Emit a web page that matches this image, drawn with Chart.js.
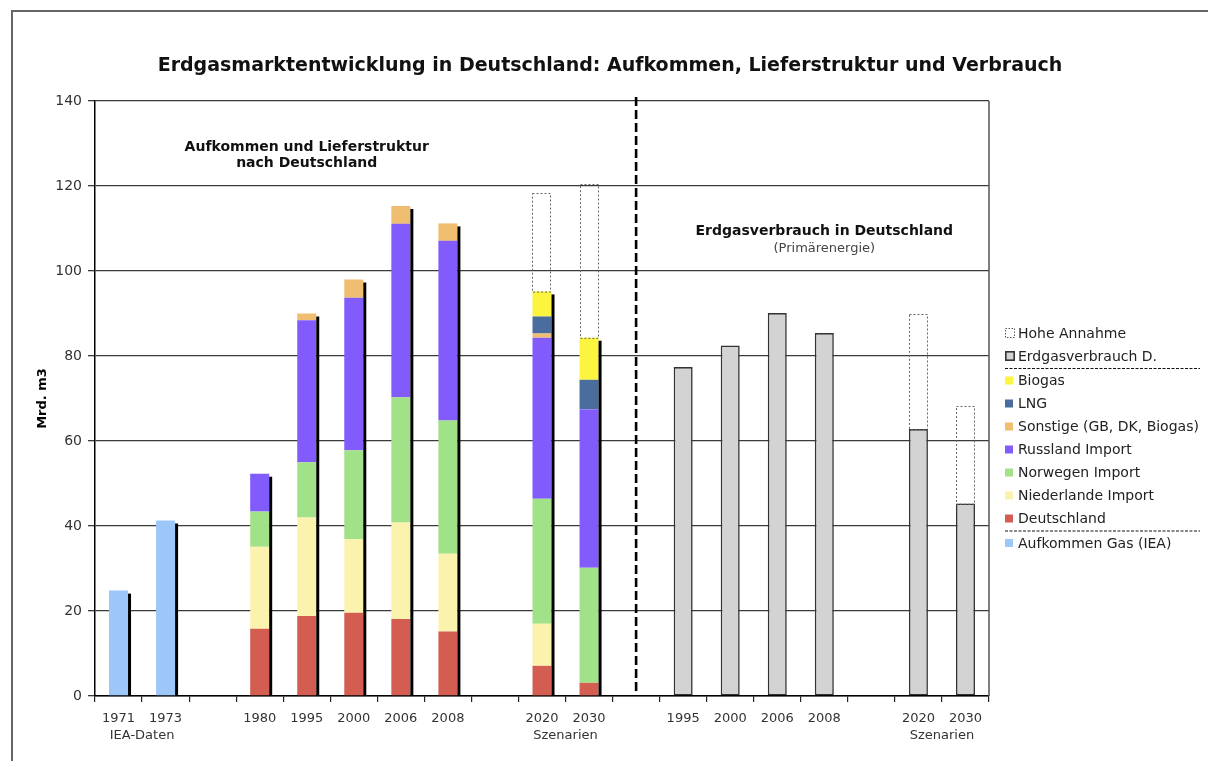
<!DOCTYPE html>
<html>
<head>
<meta charset="utf-8">
<script src="https://cdn.jsdelivr.net/npm/chart.js@4.4.1/dist/chart.umd.min.js"></script>
<style>
  html, body { margin: 0; padding: 0; background: #fff; }
  #wrap { position: relative; width: 1208px; height: 761px; overflow: hidden; }
  #frame { position: absolute; left: 11px; top: 10px; right: -10px; bottom: -10px;
           border-top: 2px solid #666; border-left: 2px solid #666; }
  canvas { position: absolute; left: 0; top: 0; }
</style>
</head>
<body>
<div id="wrap">
  <div id="frame"></div>
  <canvas id="chart" width="1208" height="761"></canvas>
</div>
<script>
// --- Data (Mrd. m3) ---
const _ = null;
const labels = ['1971', '1973', '', '1980', '1995', '2000', '2006', '2008', '', '2020', '2030',
                '', '1995', '2000', '2006', '2008', '', '2020', '2030'];

const aufkommenIEA = [24.8, 41.3, _, _, _, _, _, _, _, _, _, _, _, _, _, _, _, _, _];
const deutschland  = [_, _, _, 15.8, 18.8, 19.6, 18.1, 15.2, _, 7.1, 3.1, _, _, _, _, _, _, _, _];
const niederlande  = [_, _, _, 19.3, 23.2, 17.3, 22.7, 18.3, _, 9.9, _, _, _, _, _, _, _, _, _];
const norwegen     = [_, _, _, 8.3, 13.0, 20.9, 29.5, 31.3, _, 29.4, 27.1, _, _, _, _, _, _, _, _];
const russland     = [_, _, _, 8.9, 33.4, 35.9, 40.8, 42.3, _, 37.9, 37.3, _, _, _, _, _, _, _, _];
const sonstige     = [_, _, _, _, 1.6, 4.3, 4.2, 4.1, _, 1.0, _, _, _, _, _, _, _, _, _];
const lng          = [_, _, _, _, _, _, _, _, _, 4.0, 6.9, _, _, _, _, _, _, _, _];
const biogas       = [_, _, _, _, _, _, _, _, _, 5.9, 9.9, _, _, _, _, _, _, _, _];
const verbrauch    = [_, _, _, _, _, _, _, _, _, _, _, _, 77.4, 82.5, 90.1, 85.4, _, 62.8, 45.3];
const hoheAnnahme  = [_, _, _, _, _, _, _, _, _, 23.2, 36.2, _, _, _, _, _, _, 27.1, 23.0];

const yTicks = [0, 20, 40, 60, 80, 100, 120, 140];

const FONT = '"DejaVu Sans", Verdana, sans-serif';

// --- Datasets ---
function bar(label, data, color) {
  return { label, data, backgroundColor: color, borderWidth: 0 };
}
const datasets = [
  bar('Aufkommen Gas (IEA)', aufkommenIEA, '#9dc6f9'),
  bar('Deutschland', deutschland, '#d35d50'),
  bar('Niederlande Import', niederlande, '#fbf2ae'),
  bar('Norwegen Import', norwegen, '#a1e187'),
  bar('Russland Import', russland, '#815bfb'),
  bar('Sonstige (GB, DK, Biogas)', sonstige, '#f0be70'),
  bar('LNG', lng, '#4b6d9e'),
  bar('Biogas', biogas, '#fcf43e'),
  { label: 'Erdgasverbrauch D.', data: verbrauch, backgroundColor: '#d3d3d3',
    borderColor: '#333', borderWidth: 1.6, borderSkipped: false },
  { label: 'Hohe Annahme', data: hoheAnnahme, backgroundColor: 'rgba(0,0,0,0)', borderWidth: 0 }
];
const SUPPLY = 8; // first 8 datasets get the black side shadow

// legend order, top to bottom ('sep' = dashed separator)
const legendOrder = [9, 8, 'sep', 7, 6, 5, 4, 3, 2, 1, 'sep', 0];

// --- Extra drawing: shadows, dotted boxes, separator, texts, legend ---
const overlay = {
  id: 'overlay',
  afterDatasetsDraw(chart) {
    const { ctx, chartArea: a, scales: { x, y } } = chart;
    ctx.save();

    // black shadow on the right side of supply bars
    for (let i = 0; i < labels.length; i++) {
      let top = null, ref = null;
      for (let d = 0; d < SUPPLY; d++) {
        if (chart.data.datasets[d].data[i] == null) continue;
        const el = chart.getDatasetMeta(d).data[i];
        if (top === null || el.y < top) top = el.y;
        ref = el;
      }
      if (ref) {
        ctx.fillStyle = '#000';
        ctx.fillRect(ref.x + ref.width / 2, top + 3, 3, y.getPixelForValue(0) - top - 3);
      }
    }

    // dotted boxes for "Hohe Annahme"
    ctx.setLineDash([2, 2]);
    ctx.strokeStyle = '#666';
    ctx.lineWidth = 1;
    chart.getDatasetMeta(9).data.forEach((el, i) => {
      if (hoheAnnahme[i] == null) return;
      ctx.strokeRect(Math.round(el.x - el.width / 2) + 0.5, Math.round(el.y) + 0.5,
                     Math.round(el.width) - 1, el.base - el.y);
    });

    // right frame of plot area
    ctx.setLineDash([]);
    ctx.strokeStyle = '#555';
    ctx.lineWidth = 1.5;
    ctx.beginPath();
    ctx.moveTo(a.right, a.top);
    ctx.lineTo(a.right, a.bottom);
    ctx.stroke();

    // dashed separator between supply and consumption
    const sx = x.getPixelForValue(11);
    ctx.setLineDash([9, 4]);
    ctx.strokeStyle = '#000';
    ctx.lineWidth = 2.6;
    ctx.beginPath();
    ctx.moveTo(sx, a.top - 4);
    ctx.lineTo(sx, a.bottom);
    ctx.stroke();
    ctx.restore();
  },
  afterDraw(chart) {
    const { ctx, chartArea: a, scales: { x, y } } = chart;
    ctx.save();
    ctx.textAlign = 'center';
    ctx.textBaseline = 'middle';

    // main title
    ctx.fillStyle = '#111';
    ctx.font = 'bold 19px ' + FONT;
    ctx.fillText('Erdgasmarktentwicklung in Deutschland: Aufkommen, Lieferstruktur und Verbrauch', 610, 66);

    // section texts
    ctx.font = 'bold 14px ' + FONT;
    ctx.fillText('Aufkommen und Lieferstruktur', x.getPixelForValue(4), y.getPixelForValue(129.1));
    ctx.fillText('nach Deutschland', x.getPixelForValue(4), y.getPixelForValue(125.3));
    ctx.fillText('Erdgasverbrauch in Deutschland', x.getPixelForValue(15), y.getPixelForValue(109.3));
    ctx.font = '13px ' + FONT;
    ctx.fillStyle = '#444';
    ctx.fillText('(Primärenergie)', x.getPixelForValue(15), y.getPixelForValue(105.3));

    // second line of x labels
    ctx.fillStyle = '#333';
    ctx.fillText('IEA-Daten', x.getPixelForValue(0.5), a.bottom + 40);
    ctx.fillText('Szenarien', x.getPixelForValue(9.5), a.bottom + 40);
    ctx.fillText('Szenarien', x.getPixelForValue(17.5), a.bottom + 40);

    // legend
    const lx = a.right + 16;
    let ly = 333;
    ctx.textAlign = 'left';
    ctx.font = '14px ' + FONT;
    legendOrder.forEach(item => {
      if (item === 'sep') {
        ctx.save();
        ctx.setLineDash([3, 1.5]);
        ctx.strokeStyle = '#111';
        ctx.lineWidth = 1.2;
        ctx.beginPath();
        ctx.moveTo(lx, ly - 10.5);
        ctx.lineTo(lx + 195, ly - 10.5);
        ctx.stroke();
        ctx.restore();
        ly += 1.5;
        return;
      }
      const ds = chart.data.datasets[item];
      if (item === 9) {
        ctx.save();
        ctx.setLineDash([1.5, 1.5]);
        ctx.strokeStyle = '#555';
        ctx.lineWidth = 1;
        ctx.strokeRect(lx + 0.5, ly - 4.5, 9, 9);
        ctx.restore();
      } else if (item === 8) {
        ctx.fillStyle = ds.backgroundColor;
        ctx.fillRect(lx, ly - 5, 10, 10);
        ctx.strokeStyle = '#333';
        ctx.lineWidth = 1.6;
        ctx.strokeRect(lx + 0.8, ly - 4.2, 8.4, 8.4);
      } else {
        ctx.fillStyle = ds.backgroundColor;
        ctx.fillRect(lx, ly - 4, 8, 8);
      }
      ctx.fillStyle = '#222';
      ctx.fillText(ds.label, lx + 13, ly + 1);
      ly += 23;
    });
    ctx.restore();
  }
};

new Chart(document.getElementById('chart'), {
  type: 'bar',
  data: { labels, datasets },
  options: {
    responsive: false,
    animation: false,
    devicePixelRatio: 1,
    layout: { padding: { top: 101, right: 219, bottom: 0, left: 0 } },
    datasets: { bar: { barPercentage: 0.404, categoryPercentage: 1.0 } },
    plugins: {
      legend: { display: false },
      title: { display: false },
      tooltip: { enabled: false }
    },
    scales: {
      x: {
        stacked: true,
        afterFit: s => { s.height = 65; },
        grid: { drawOnChartArea: false, drawTicks: true, tickLength: 6, color: '#222', lineWidth: 1.2, offset: true },
        border: { color: '#000', width: 1.5 },
        ticks: { color: '#333', font: { family: FONT, size: 13 }, padding: 9, maxRotation: 0, autoSkip: false }
      },
      y: {
        stacked: true,
        min: 0,
        max: 140,
        afterFit: s => { s.width = 95; },
        afterBuildTicks: s => { s.ticks = yTicks.map(v => ({ value: v })); },
        grid: { color: '#3a3a3a', lineWidth: 1.3, tickLength: 7 },
        border: { color: '#000', width: 1.5 },
        ticks: { color: '#333', font: { family: FONT, size: 14 }, padding: 6 },
        title: { display: true, text: 'Mrd. m3', color: '#000',
                 font: { family: FONT, size: 13, weight: 'bold' }, padding: { top: 35, bottom: 0 } }
      }
    }
  },
  plugins: [overlay]
});
</script>
</body>
</html>
